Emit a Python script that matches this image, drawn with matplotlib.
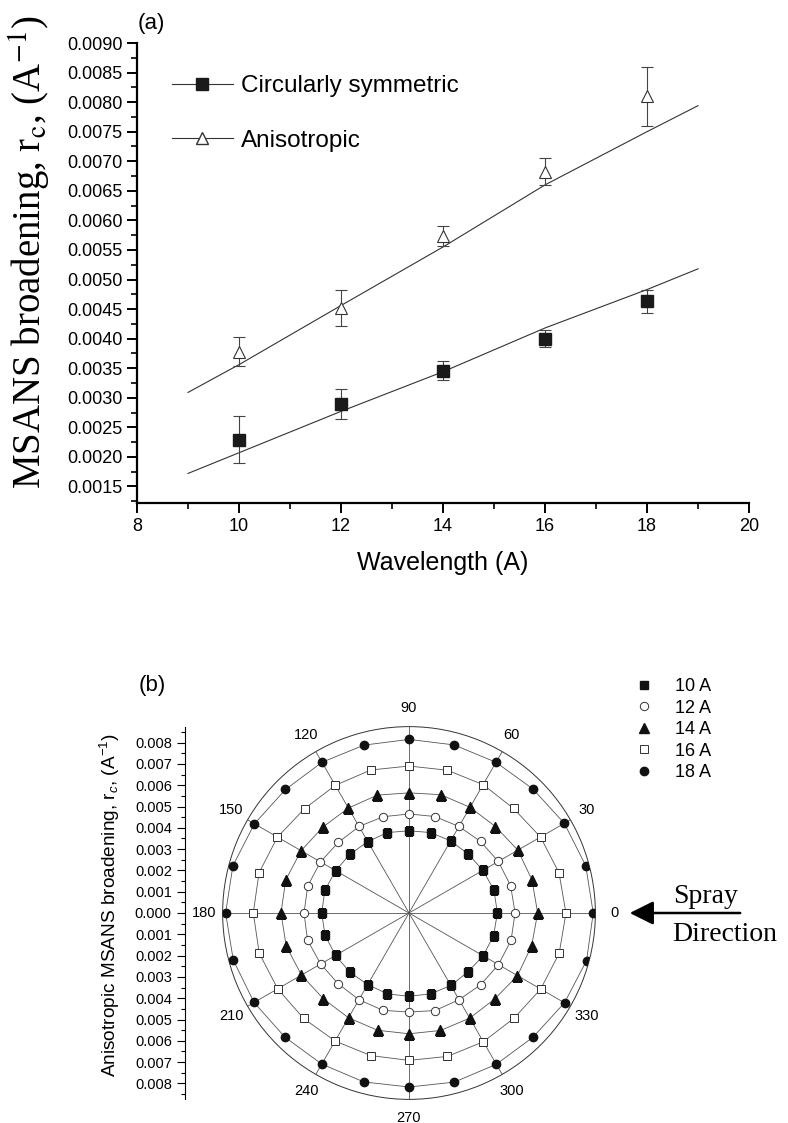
import numpy as np
import matplotlib
matplotlib.use('Agg')
import matplotlib.pyplot as plt
from matplotlib.lines import Line2D

plt.rcParams['font.family'] = ['Liberation Sans', 'DejaVu Sans']
plt.rcParams['mathtext.fontset'] = 'custom'
plt.rcParams['mathtext.rm'] = 'Liberation Sans'
plt.rcParams['mathtext.it'] = 'Liberation Sans:italic'

# ---- (a) broadening vs wavelength ----
wavelength = [10, 12, 14, 16, 18]
circ = [0.00229, 0.00289, 0.00346, 0.00400, 0.00463]
circ_err = [0.00040, 0.00025, 0.00016, 0.00015, 0.00019]
aniso = [0.00378, 0.00452, 0.00574, 0.00682, 0.00810]
aniso_err = [0.00025, 0.00030, 0.00017, 0.00023, 0.00050]
fit_x = [9, 10, 12, 14, 16, 18, 19]
circ_fit = [0.00172, 0.00207, 0.00277, 0.00344, 0.00418, 0.00483, 0.00518]
aniso_fit = [0.00309, 0.00356, 0.00456, 0.00555, 0.00660, 0.00750, 0.00794]

# ---- (b) polar plot, angle in degrees ----
angles = list(range(0, 360, 15))
r10 = [0.00415, 0.00413, 0.00401, 0.00392, 0.00391, 0.00391, 0.00386, 0.00391,
       0.00387, 0.00391, 0.00398, 0.00409, 0.00410, 0.00408, 0.00398, 0.00393,
       0.00388, 0.00393, 0.00391, 0.00393, 0.00393, 0.00391, 0.00402, 0.00411]
r12 = [0.00498, 0.00494, 0.00484, 0.00475, 0.00469, 0.00469, 0.00465, 0.00468,
       0.00469, 0.00469, 0.00480, 0.00492, 0.00493, 0.00493, 0.00479, 0.00470,
       0.00470, 0.00473, 0.00465, 0.00474, 0.00470, 0.00476, 0.00485, 0.00496]
r14 = [0.00604, 0.00598, 0.00590, 0.00574, 0.00573, 0.00575, 0.00564, 0.00573,
       0.00569, 0.00571, 0.00585, 0.00599, 0.00601, 0.00597, 0.00583, 0.00569,
       0.00568, 0.00570, 0.00567, 0.00571, 0.00570, 0.00570, 0.00588, 0.00596]
r16 = [0.00737, 0.00729, 0.00713, 0.00694, 0.00696, 0.00694, 0.00690, 0.00695,
       0.00692, 0.00693, 0.00713, 0.00729, 0.00731, 0.00728, 0.00712, 0.00700,
       0.00694, 0.00693, 0.00692, 0.00697, 0.00698, 0.00698, 0.00714, 0.00730]
r18 = [0.00865, 0.00859, 0.00842, 0.00823, 0.00817, 0.00817, 0.00815, 0.00816,
       0.00817, 0.00820, 0.00838, 0.00856, 0.00861, 0.00854, 0.00840, 0.00824,
       0.00819, 0.00821, 0.00817, 0.00822, 0.00820, 0.00824, 0.00843, 0.00863]
series_labels = ['10 A', '12 A', '14 A', '16 A', '18 A']
rmax = 0.00875

W, H = 788, 1123
fig = plt.figure(figsize=(W / 100, H / 100), dpi=100)

# ===== panel (a) =====
ax = fig.add_axes([137 / W, 1 - 503 / H, (749 - 137) / W, (503 - 43) / H])
ax.plot(fit_x, circ_fit, color='#333333', lw=0.8)
ax.plot(fit_x, aniso_fit, color='#333333', lw=0.8)
ax.errorbar(wavelength, circ, yerr=circ_err, fmt='s', ms=8, color='#1a1a1a',
            ecolor='#444444', elinewidth=0.8, capsize=4, capthick=0.8)
ax.errorbar(wavelength, aniso, yerr=aniso_err, fmt='^', ms=9, mfc='white',
            mec='#333333', mew=0.8, ecolor='#444444', elinewidth=0.8,
            capsize=4, capthick=0.8)
ax.set_xlim(8, 20)
ax.set_ylim(0.00122, 0.0090)
ax.set_xticks(range(8, 21, 2))
ax.set_xticks(range(9, 20, 2), minor=True)
ax.set_yticks(np.arange(0.0015, 0.00901, 0.0005))
ax.set_yticks(np.arange(0.00125, 0.0090, 0.0005), minor=True)
ax.yaxis.set_major_formatter(matplotlib.ticker.FormatStrFormatter('%.4f'))
for s in ['top', 'right']:
    ax.spines[s].set_visible(False)
for s in ['left', 'bottom']:
    ax.spines[s].set_linewidth(1.6)
ax.tick_params(which='major', direction='out', length=7, width=1.4, labelsize=13)
ax.tick_params(which='minor', direction='out', length=4, width=1.2)
ax.set_xlabel('Wavelength (A)', fontsize=18, labelpad=12)

fig.text(30 / W, 1 - 252 / H, r'MSANS broadening, r$_\mathrm{c}$, (A$^{\mathrm{-1}}$)',
         rotation=90, ha='center', va='center', fontsize=28,
         family='Liberation Serif', math_fontfamily='stix')
fig.text(151 / W, 1 - 24 / H, '(a)', ha='center', va='center', fontsize=16)

handles = [Line2D([], [], color='#333333', lw=0.8, marker='s', ms=8,
                  mfc='#1a1a1a', mec='#1a1a1a'),
           Line2D([], [], color='#333333', lw=0.8, marker='^', ms=9,
                  mfc='white', mec='#333333')]
ax.legend(handles, ['Circularly symmetric', 'Anisotropic'], loc='upper left',
          bbox_to_anchor=(172 / W, 1 - 75 / H), bbox_transform=fig.transFigure,
          frameon=False, fontsize=17.5, handlelength=2.5, handletextpad=0.35,
          labelspacing=1.35, borderpad=0, borderaxespad=0)

# ===== panel (b) =====
cx, cy = 409, 913
rad_px = rmax * 21300
pax = fig.add_axes([(cx - rad_px) / W, (H - cy - rad_px) / H,
                    2 * rad_px / W, 2 * rad_px / H], projection='polar')
pax.set_ylim(0, rmax)
pax.set_xticks([])
pax.set_yticks([])
pax.grid(False)
pax.spines['polar'].set_linewidth(0.7)
pax.spines['polar'].set_color('#333333')

all_r = [r10, r12, r14, r16, r18]
markers = [dict(marker='s', mfc='#111111', mec='#111111', ms=5.5),
           dict(marker='o', mfc='white', mec='#333333', ms=6, mew=0.7),
           dict(marker='^', mfc='#111111', mec='#111111', ms=7),
           dict(marker='s', mfc='white', mec='#333333', ms=6, mew=0.7),
           dict(marker='o', mfc='#111111', mec='#111111', ms=6)]

th = np.radians(angles + [360])
for rv in all_r:
    pax.plot(th, rv + [rv[0]], color='#555555', lw=0.6, zorder=2)

# radial lines every 30 degrees through the data points
for a in range(0, 360, 30):
    i = angles.index(a)
    rr = [0] + [rv[i] for rv in all_r] + [rmax]
    pax.plot([np.radians(a)] * len(rr), rr, color='#555555', lw=0.6, zorder=2)

for rv, mk, lab in zip(all_r, markers, series_labels):
    pax.plot(np.radians(angles), rv, ls='none', zorder=3, label=lab, **mk)

for a in range(0, 360, 30):
    pax.text(np.radians(a), rmax * 1.1, str(a), ha='center', va='center',
             fontsize=10.5, clip_on=False)

pax.legend(loc='upper left', bbox_to_anchor=(635 / W, 1 - 678 / H),
           bbox_transform=fig.transFigure, frameon=False, fontsize=13,
           handlelength=1.0, handletextpad=1.2, labelspacing=0.25,
           borderpad=0, borderaxespad=0, numpoints=1)

# radial scale drawn as a vertical axis on the left
lax = fig.add_axes([185 / W, (H - cy - rad_px) / H, 0.0001, 2 * rad_px / H])
lax.set_ylim(-rmax, rmax)
lax.set_xticks([])
for s in ['top', 'right', 'bottom']:
    lax.spines[s].set_visible(False)
lax.spines['left'].set_linewidth(0.8)
yt = np.arange(-0.008, 0.00801, 0.001)
lax.set_yticks(yt)
lax.set_yticklabels(['%.3f' % abs(v) for v in yt])
lax.set_yticks(np.arange(-0.0085, 0.0086, 0.0005), minor=True)
lax.tick_params(which='major', direction='out', length=6, width=0.8, labelsize=10.5)
lax.tick_params(which='minor', direction='out', length=3, width=0.8)
fig.text(110 / W, 1 - 905 / H, r'Anisotropic MSANS broadening, r$_c$, (A$^{-1}$)',
         rotation=90, ha='center', va='center', fontsize=13.7)
fig.text(152 / W, 1 - 685 / H, '(b)', ha='center', va='center', fontsize=16)

# spray direction arrow
fig.text(706 / W, 1 - 903 / H, 'Spray', ha='center', va='baseline',
         fontsize=20, family='Liberation Serif')
fig.text(725 / W, 1 - 941 / H, 'Direction', ha='center', va='baseline',
         fontsize=20, family='Liberation Serif')
fig.add_artist(matplotlib.patches.FancyArrowPatch(
    (743, H - 913), (627, H - 913), transform=None,
    arrowstyle='-|>,head_length=1.0,head_width=0.5', mutation_scale=14.5,
    lw=1.8, color='black'))

fig.savefig('out.png', dpi=100)
